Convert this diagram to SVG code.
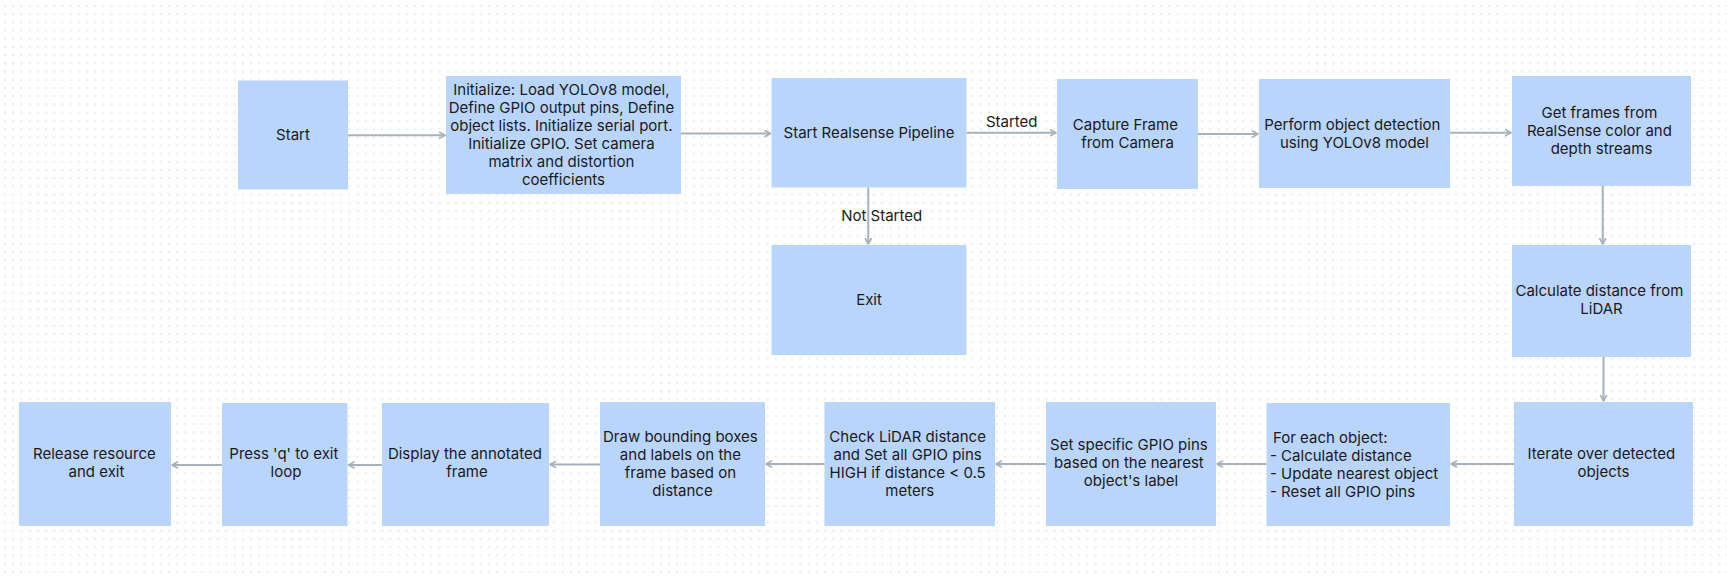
<svg xmlns="http://www.w3.org/2000/svg" width="1727" height="577" viewBox="0 0 1727 577">
<defs>
<pattern id="dots" x="4" y="5" width="8.2" height="8.2" patternUnits="userSpaceOnUse">
<rect x="0" y="0" width="2" height="2" fill="#ebebeb"/>
</pattern>
<marker id="arr" markerUnits="userSpaceOnUse" markerWidth="10" markerHeight="10" refX="6.5" refY="4" orient="auto">
<path d="M1,1 L6.5,4 L1,7" fill="none" stroke="#a7b1ba" stroke-width="1.6" stroke-linecap="round" stroke-linejoin="round"/>
</marker>
<style>
.box{fill:#b9d5fc;}
text{font-family:Inter,"Liberation Sans",sans-serif;font-size:15px;fill:#1a1a1a;}
.c{text-anchor:middle;}
.edge{stroke:#a7b1ba;stroke-width:2;fill:none;marker-end:url(#arr);}
</style>
</defs>
<rect width="1727" height="577" fill="#ffffff"/>
<rect width="1727" height="577" fill="url(#dots)"/>

<g id="connectors">
<path class="edge" d="M348,135.3 L445,135.3"/>
<path class="edge" d="M681,133.5 L770.5,133.5"/>
<path class="edge" d="M966.5,132.7 L1056,132.7"/>
<path class="edge" d="M868.3,187.5 L868.3,244"/>
<path class="edge" d="M1198,134 L1258,134"/>
<path class="edge" d="M1450,132.7 L1511,132.7"/>
<path class="edge" d="M1602.7,185.7 L1602.7,244"/>
<path class="edge" d="M1603.5,357 L1603.5,401"/>
<path class="edge" d="M1514,464 L1451,464"/>
<path class="edge" d="M1266.5,464 L1217,464"/>
<path class="edge" d="M1046,464 L996,464"/>
<path class="edge" d="M824.5,464 L766,464"/>
<path class="edge" d="M600,464.5 L550,464.5"/>
<path class="edge" d="M382,465 L348.5,465"/>
<path class="edge" d="M222,465 L172,465"/>
<text class="c" x="1011.7" y="126.7">Started</text>
<text class="c" x="881.7" y="220.7">Not Started</text>
</g>

<g id="start">
<rect class="box" x="238" y="80.5" width="110" height="109"/>
<text class="c" x="293" y="140">Start</text>
</g>

<g id="init">
<rect class="box" x="446" y="76" width="235" height="118"/>
<text class="c" x="563.5" y="95">
<tspan x="563.5" dy="0">Initialize: Load YOLOv8 model,</tspan>
<tspan x="563.5" dy="18">Define GPIO output pins, Define</tspan>
<tspan x="563.5" dy="18">object lists. Initialize serial port.</tspan>
<tspan x="563.5" dy="18">Initialize GPIO. Set camera</tspan>
<tspan x="563.5" dy="18">matrix and distortion</tspan>
<tspan x="563.5" dy="18">coefficients</tspan>
</text>
</g>

<g id="realsense">
<rect class="box" x="771.5" y="78" width="195" height="109.5"/>
<text class="c" x="869" y="137.5">Start Realsense Pipeline</text>
</g>

<g id="exit">
<rect class="box" x="771.5" y="245" width="195" height="110"/>
<text class="c" x="869" y="305">Exit</text>
</g>

<g id="capture">
<rect class="box" x="1057" y="79" width="141" height="110"/>
<text class="c" x="1127.5" y="130">
<tspan x="1127.5" dy="0">Capture Frame</tspan>
<tspan x="1127.5" dy="18">from Camera</tspan>
</text>
</g>

<g id="detect">
<rect class="box" x="1259" y="79" width="191" height="109"/>
<text class="c" x="1354.5" y="130">
<tspan x="1354.5" dy="0">Perform object detection</tspan>
<tspan x="1354.5" dy="18">using YOLOv8 model</tspan>
</text>
</g>

<g id="getframes">
<rect class="box" x="1512" y="76" width="179" height="110"/>
<text class="c" x="1601.5" y="118">
<tspan x="1601.5" dy="0">Get frames from</tspan>
<tspan x="1601.5" dy="18">RealSense color and</tspan>
<tspan x="1601.5" dy="18">depth streams</tspan>
</text>
</g>

<g id="lidar">
<rect class="box" x="1512" y="245" width="179" height="112"/>
<text class="c" x="1601.5" y="296">
<tspan x="1601.5" dy="0">Calculate distance from</tspan>
<tspan x="1601.5" dy="18">LiDAR</tspan>
</text>
</g>

<g id="iterate">
<rect class="box" x="1514" y="402" width="179" height="124"/>
<text class="c" x="1603.5" y="459">
<tspan x="1603.5" dy="0">Iterate over detected</tspan>
<tspan x="1603.5" dy="18">objects</tspan>
</text>
</g>

<g id="foreach">
<rect class="box" x="1266.5" y="403" width="183.5" height="123"/>
<text x="1270" y="443">
<tspan x="1273" dy="0">For each object:</tspan>
<tspan x="1270" dy="18">- Calculate distance</tspan>
<tspan x="1270" dy="18">- Update nearest object</tspan>
<tspan x="1270" dy="18">- Reset all GPIO pins</tspan>
</text>
</g>

<g id="setgpio">
<rect class="box" x="1046" y="402" width="170" height="124"/>
<text class="c" x="1131" y="450">
<tspan x="1131" dy="0">Set specific GPIO pins</tspan>
<tspan x="1131" dy="18">based on the nearest</tspan>
<tspan x="1131" dy="18">object's label</tspan>
</text>
</g>

<g id="check">
<rect class="box" x="824.5" y="402" width="170.5" height="124"/>
<text class="c" x="909.75" y="441.5">
<tspan x="909.75" dy="0">Check LiDAR distance</tspan>
<tspan x="909.75" dy="18">and Set all GPIO pins</tspan>
<tspan x="909.75" dy="18">HIGH if distance &lt; 0.5</tspan>
<tspan x="909.75" dy="18">meters</tspan>
</text>
</g>

<g id="draw">
<rect class="box" x="600" y="402" width="165" height="124"/>
<text class="c" x="682.5" y="441.5">
<tspan x="682.5" dy="0">Draw bounding boxes</tspan>
<tspan x="682.5" dy="18">and labels on the</tspan>
<tspan x="682.5" dy="18">frame based on</tspan>
<tspan x="682.5" dy="18">distance</tspan>
</text>
</g>

<g id="display">
<rect class="box" x="382" y="403" width="167" height="123"/>
<text class="c" x="467" y="459">
<tspan x="467" dy="0">Display the annotated</tspan>
<tspan x="467" dy="18">frame</tspan>
</text>
</g>

<g id="pressq">
<rect class="box" x="222" y="403" width="125.5" height="123"/>
<text class="c" x="286" y="459">
<tspan x="286" dy="0">Press 'q' to exit</tspan>
<tspan x="286" dy="18">loop</tspan>
</text>
</g>

<g id="release">
<rect class="box" x="19" y="402" width="152" height="124"/>
<text class="c" x="96.5" y="459">
<tspan x="96.5" dy="0">Release resource</tspan>
<tspan x="96.5" dy="18">and exit</tspan>
</text>
</g>
</svg>
